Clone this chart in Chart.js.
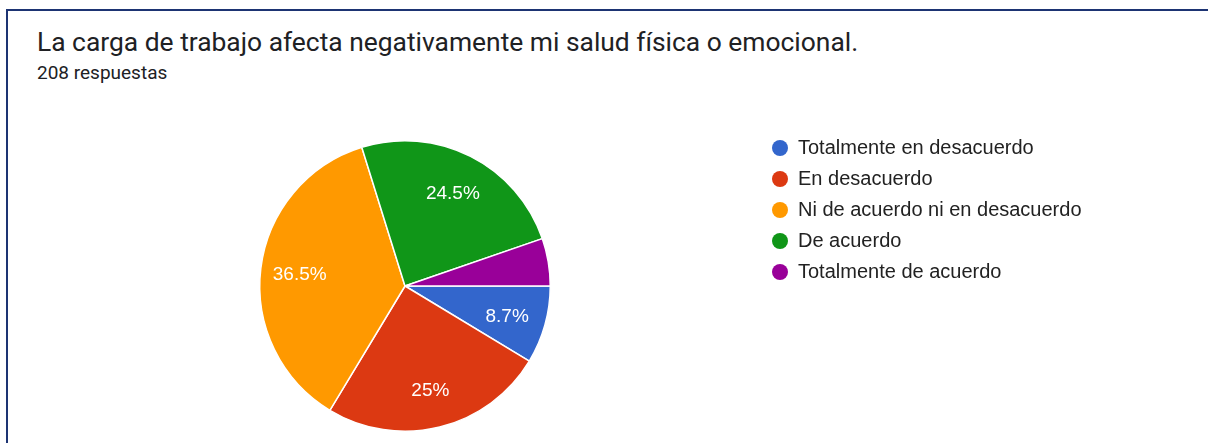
<!DOCTYPE html>
<html>
<head>
<meta charset="utf-8">
<script src="https://cdn.jsdelivr.net/npm/chart.js@4.4.1/dist/chart.umd.min.js"></script>
<style>
  html, body { margin: 0; padding: 0; background: #fff; }
  body { width: 1208px; height: 443px; position: relative; overflow: hidden; }
  #frame { position: absolute; left: 6px; top: 9px; width: 1210px; height: 450px;
           border-left: 2px solid #1d3473; border-top: 2px solid #1d3473; box-sizing: border-box; }
  #title { position: absolute; left: 37px; top: 27px; font-family: Roboto, sans-serif; font-size: 26.4px;
           color: #202124; white-space: nowrap; }
  #subtitle { position: absolute; left: 37px; top: 61px; font-family: Roboto, sans-serif; font-size: 19px;
              color: #202124; white-space: nowrap; }
  #chart { position: absolute; left: 0; top: 0; }
  #legend { position: absolute; left: 772px; top: 132px; font-family: "Liberation Sans", Arial, sans-serif;
            font-size: 20px; color: #222; }
  .item { height: 31px; display: flex; align-items: center; white-space: nowrap; }
  .dot { width: 16px; height: 16px; border-radius: 50%; margin-right: 10px; flex: none; }
</style>
</head>
<body>
<div id="frame"></div>
<div id="title">La carga de trabajo afecta negativamente mi salud física o emocional.</div>
<div id="subtitle">208 respuestas</div>
<canvas id="chart" width="1208" height="443"></canvas>
<div id="legend"></div>
<script>
const categories = ["Totalmente en desacuerdo", "En desacuerdo", "Ni de acuerdo ni en desacuerdo", "De acuerdo", "Totalmente de acuerdo"];
const responses = [18, 52, 76, 51, 11];
const colors = ["#3366cc", "#dc3912", "#ff9900", "#109618", "#990099"];

const legend = document.getElementById('legend');
categories.forEach((c, i) => {
  const d = document.createElement('div');
  d.className = 'item';
  d.innerHTML = '<span class="dot" style="background:' + colors[i] + '"></span><span>' + c + '</span>';
  legend.appendChild(d);
});

const total = responses.reduce((a, b) => a + b, 0);
const pctLabels = {
  id: 'pctLabels',
  afterDatasetsDraw(chart) {
    const ctx = chart.ctx;
    const meta = chart.getDatasetMeta(0);
    ctx.save();
    ctx.font = '19px "Liberation Sans", Arial, sans-serif';
    ctx.fillStyle = '#ffffff';
    ctx.textAlign = 'center';
    ctx.textBaseline = 'middle';
    meta.data.forEach((arc, i) => {
      const pct = responses[i] / total * 100;
      if (pct < 6) return;
      const p = arc.getProps(['startAngle', 'endAngle', 'outerRadius', 'x', 'y'], true);
      const mid = (p.startAngle + p.endAngle) / 2;
      const r = p.outerRadius * 0.73;
      const txt = (Math.round(pct * 10) / 10).toString() + '%';
      ctx.fillText(txt, p.x + Math.cos(mid) * r, p.y + Math.sin(mid) * r + 2);
    });
    ctx.restore();
  }
};

new Chart(document.getElementById('chart'), {
  type: 'pie',
  data: {
    labels: categories,
    datasets: [{ data: responses, backgroundColor: colors, borderColor: '#ffffff', borderWidth: 1.5 }]
  },
  options: {
    responsive: false,
    animation: false,
    rotation: 90,
    layout: { padding: { left: 259, right: 657, top: 140, bottom: 11 } },
    plugins: { legend: { display: false }, tooltip: { enabled: false } }
  },
  plugins: [pctLabels]
});
</script>
</body>
</html>
